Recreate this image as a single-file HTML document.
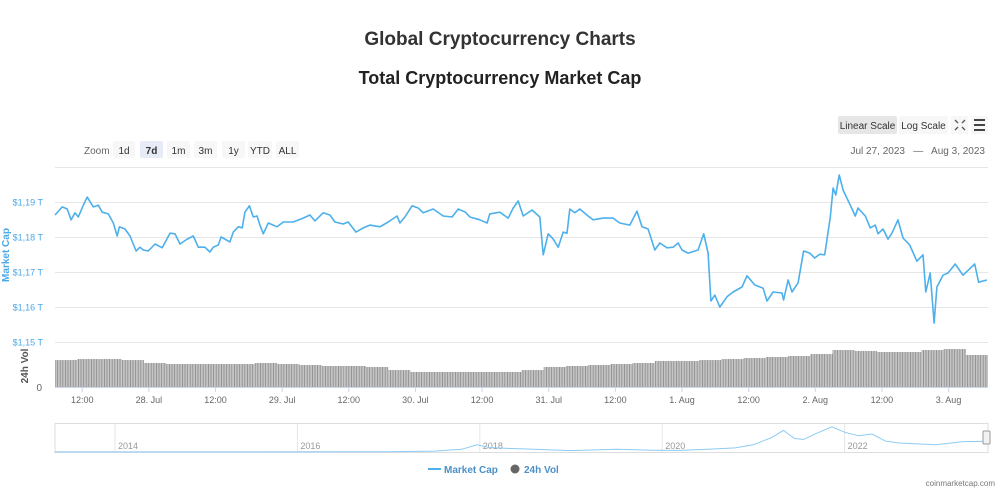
<!DOCTYPE html>
<html><head><meta charset="utf-8">
<style>
body{margin:0;background:#fff;font-family:"Liberation Sans",sans-serif;}
svg{display:block}
</style></head>
<body>
<svg id="chart" width="1000" height="490" font-family="Liberation Sans, sans-serif">
<defs>
<pattern id="stripes" width="2.6" height="10" patternUnits="userSpaceOnUse">
<rect width="2.6" height="10" fill="#c4c4c4"/><rect width="0.8" height="10" fill="#8a8a8a"/>
</pattern>
</defs>
<text x="500" y="45" text-anchor="middle" font-size="19" font-weight="bold" fill="#333">Global Cryptocurrency Charts</text>
<text x="500" y="84" text-anchor="middle" font-size="18" font-weight="bold" fill="#222">Total Cryptocurrency Market Cap</text>

<g><rect x="838" y="116" width="59" height="18" rx="2" fill="#e6e6e6"/><text x="867.5" y="129" text-anchor="middle" font-size="10" fill="#333">Linear Scale</text></g>
<g><rect x="899" y="116" width="49" height="18" rx="2" fill="#f7f7f7"/><text x="923.5" y="129" text-anchor="middle" font-size="10" fill="#333">Log Scale</text></g>
<g><rect x="951" y="116" width="17" height="18" fill="#f7f7f7"/><path d="M955 120l3 3M965 120l-3 3M955 130l3-3M965 130l-3-3" stroke="#555" stroke-width="1.3"/></g>
<g><rect x="971" y="116" width="17" height="18" fill="#f7f7f7"/><path d="M974 120h11M974 125h11M974 130h11" stroke="#444" stroke-width="2"/></g>

<text x="84" y="154" font-size="10" fill="#666">Zoom</text>
<g id="zoomBtns"></g>
<text x="985" y="154" text-anchor="end" font-size="10" fill="#666">Jul 27, 2023 &#160; — &#160; Aug 3, 2023</text>

<g id="grid"></g>
<g id="ylabels"></g>
<text transform="translate(9,255) rotate(-90)" text-anchor="middle" font-size="10" font-weight="bold" fill="#4aa8e8">Market Cap</text>
<text transform="translate(28,366) rotate(-90)" text-anchor="middle" font-size="10" font-weight="bold" fill="#555">24h Vol</text>
<text x="42" y="391" text-anchor="end" font-size="10" fill="#666">0</text>
<g id="vol"></g>
<path id="line" fill="none" stroke="#4db0eb" stroke-width="1.6" stroke-linejoin="round"/>
<line x1="55" y1="387.5" x2="988" y2="387.5" stroke="#ccd6eb"/>
<g id="xticks"></g>

<g id="nav"></g>

<g>
<g><line x1="428" y1="469" x2="441" y2="469" stroke="#4db0eb" stroke-width="2"/><text x="444" y="473" font-size="10" font-weight="bold" fill="#4a90c8">Market Cap</text></g>
<g><circle cx="515" cy="469" r="4.5" fill="#666"/><text x="524" y="473" font-size="10" font-weight="bold" fill="#4a90c8">24h Vol</text></g>
</g>
<text x="995" y="486" text-anchor="end" font-size="8" fill="#777">coinmarketcap.com</text>
</svg>
<script>
// hours since Jul 27 00:00 and market cap in billions USD
const hours=[7.1,8.4,9.3,10.0,10.7,11.3,12.2,12.9,14.0,14.9,15.6,16.7,17.6,18.3,18.7,19.7,20.6,21.7,22.4,23.0,23.9,25.1,26.4,27.8,28.7,29.6,30.9,32.0,32.9,34.1,35.0,35.6,36.5,37.0,38.6,39.2,40.1,40.8,41.3,42.1,42.8,43.5,44.0,44.6,45.5,47.1,48.2,50.0,51.8,53.0,53.9,55.4,56.6,57.5,59.0,59.9,61.3,62.6,63.8,65.6,67.1,68.7,69.2,70.1,71.4,72.5,73.4,75.2,77.0,78.6,79.7,81.0,81.8,83.6,84.9,85.4,87.2,88.7,89.6,90.5,91.4,93.0,94.4,95.0,95.9,96.8,97.7,98.6,99.3,99.8,100.7,101.6,103.1,104.0,105.8,107.6,108.8,110.6,111.9,112.8,113.9,115.1,116.0,117.3,118.4,119.3,120.0,121.1,122.9,123.9,124.7,125.2,125.9,126.8,128.1,129.2,130.8,131.7,133.1,134.6,135.3,136.4,138.0,138.3,139.1,139.8,140.9,141.9,143.0,143.9,144.8,145.7,146.7,147.2,147.7,148.3,149.0,150.3,151.2,151.7,153.0,153.9,154.8,155.3,156.2,157.1,157.8,158.9,159.8,161.0,162.3,163.4,163.9,164.7,165.4,165.9,167.0,167.9,169.2,170.6,171.8,172.7,173.4,174.9];
const marketCap=[1186.3,1188.6,1188.0,1184.9,1186.9,1185.7,1189.1,1191.4,1188.6,1189.1,1187.1,1186.6,1184.0,1180.3,1182.9,1182.3,1180.3,1176.0,1177.1,1176.3,1176.0,1178.0,1176.9,1181.1,1180.9,1178.0,1179.4,1180.3,1177.1,1177.1,1175.7,1177.1,1177.7,1180.0,1178.6,1181.4,1182.9,1182.6,1187.1,1188.9,1185.7,1186.0,1183.4,1180.9,1184.0,1182.9,1184.3,1184.3,1185.4,1186.3,1184.6,1186.9,1186.3,1184.3,1183.7,1184.3,1181.4,1182.6,1183.4,1182.9,1184.3,1186.0,1184.0,1185.7,1188.9,1188.3,1186.9,1188.0,1186.0,1185.7,1188.0,1187.1,1185.7,1184.9,1184.0,1186.6,1187.1,1185.4,1188.3,1190.3,1186.0,1187.7,1185.7,1174.9,1180.9,1179.4,1177.1,1181.4,1181.1,1188.0,1186.9,1188.0,1186.0,1184.9,1185.4,1185.4,1184.0,1183.4,1187.4,1182.9,1182.3,1176.3,1178.3,1176.9,1177.1,1178.3,1176.3,1175.4,1176.3,1180.9,1175.4,1161.7,1163.4,1160.0,1162.9,1164.3,1165.7,1168.9,1166.3,1165.4,1161.7,1164.3,1164.0,1162.0,1167.7,1164.3,1166.9,1176.0,1175.4,1174.0,1175.1,1174.9,1185.7,1194.0,1192.0,1197.7,1193.4,1189.1,1186.0,1188.3,1186.0,1182.6,1183.4,1180.9,1182.3,1179.4,1181.1,1184.9,1179.7,1177.7,1173.1,1174.9,1164.3,1169.7,1155.4,1165.7,1169.1,1169.7,1172.3,1169.1,1170.9,1172.3,1167.1,1167.7];
// 24h volume (billions) per 4-hour block starting at hour 7.1
const volume=[32.1,33.3,33.3,32.1,28.6,27.4,27.4,27.4,27.4,28.6,27.4,26.2,25.0,25.0,23.8,20.2,17.9,17.9,17.9,17.9,17.9,20.2,23.8,25.0,26.2,27.4,28.6,31.0,31.0,32.1,33.3,34.5,35.7,36.9,39.3,44.0,42.9,41.7,41.7,44.0,45.2,38.1];
const yTicks=[1150,1160,1170,1180,1190,1200];
const yTickLabels=["$1,15 T","$1,16 T","$1,17 T","$1,18 T","$1,19 T",""];
const xTickHours=[12,24,36,48,60,72,84,96,108,120,132,144,156,168];
const xTickLabels=["12:00","28. Jul","12:00","29. Jul","12:00","30. Jul","12:00","31. Jul","12:00","1. Aug","12:00","2. Aug","12:00","3. Aug"];
const zoomOpts=["1d","7d","1m","3m","1y","YTD","ALL"];
const navYears=[2013.34,2016.5,2017.0,2017.5,2017.8,2017.97,2018.1,2018.3,2018.6,2019.0,2019.5,2019.9,2020.2,2020.5,2020.8,2021.0,2021.2,2021.33,2021.45,2021.55,2021.7,2021.86,2022.0,2022.15,2022.3,2022.45,2022.6,2023.0,2023.3,2023.6];
const navCap=[0.01,0.02,0.03,0.1,0.3,0.8,0.5,0.4,0.3,0.15,0.3,0.2,0.18,0.3,0.45,0.8,1.6,2.4,1.5,1.4,2.1,2.8,2.2,1.8,2.0,1.2,1.0,0.8,1.15,1.2];
const navTickYears=[2014,2016,2018,2020,2022];

const NS="http://www.w3.org/2000/svg";
const X0=55,X1=988,H0=7.1,H1=175.1;
const xs=h=>X0+(h-H0)/(H1-H0)*(X1-X0);
const ys=v=>202+(1190-v)*3.5;
const vs=v=>387-v*0.84;
const mk=(p,t,a)=>{const e=document.createElementNS(NS,t);for(const k in a)e.setAttribute(k,a[k]);p.appendChild(e);return e;};

const zb=document.getElementById('zoomBtns');
const zx=[113,140,167,194,222,248,276],zw=[22,23,23,23,23,24,23];
zoomOpts.forEach((o,i)=>{
 const g=mk(zb,'g',{});
 
 
 mk(g,'rect',{x:zx[i],y:141,width:zw[i],height:17,rx:2,fill:o==='7d'?'#e6ebf5':'#f7f7f7'});
 const t=mk(g,'text',{x:zx[i]+zw[i]/2,y:154,'text-anchor':'middle','font-size':10,fill:'#333','font-weight':o==='7d'?'bold':'normal'});
 t.textContent=o;
});

const grid=document.getElementById('grid'),yl=document.getElementById('ylabels');
yTicks.forEach((v,i)=>{
 const l=mk(grid,'line',{x1:X0,x2:X1,y1:ys(v)+0.5,y2:ys(v)+0.5,stroke:'#e6e6e6'});
 
 
 if(yTickLabels[i]){
  const t=mk(yl,'text',{x:43,y:ys(v)+3.5,'text-anchor':'end','font-size':9,fill:'#4aa8e8'});
  
  
  t.textContent=yTickLabels[i];
 }
});

const vg=document.getElementById('vol');
const bw=4*(X1-X0)/(H1-H0);
volume.forEach((v,i)=>{
 const x=xs(H0+4*i);
 const r=mk(vg,'rect',{x:x,y:vs(v),width:Math.min(bw,X1-x),height:387-vs(v),fill:'url(#stripes)'});
 
 
});

document.getElementById('line').setAttribute('d',hours.map((h,i)=>(i?'L':'M')+xs(h).toFixed(1)+' '+ys(marketCap[i]).toFixed(1)).join(''));

const xt=document.getElementById('xticks');
xTickHours.forEach((h,i)=>{
 mk(xt,'line',{x1:xs(h),x2:xs(h),y1:388,y2:392,stroke:'#ccd6eb'});
 const t=mk(xt,'text',{x:xs(h),y:403,'text-anchor':'middle','font-size':9,fill:'#666'});
 
 
 t.textContent=xTickLabels[i];
});

const nav=document.getElementById('nav');
const nx=y=>115+(y-2014)*91.2, ny=v=>452-v*9;
mk(nav,'rect',{x:55,y:423.5,width:933,height:29,fill:'#fff',stroke:'#ddd'});
navTickYears.forEach(y=>{
 mk(nav,'line',{x1:nx(y),x2:nx(y),y1:424,y2:452,stroke:'#e6e6e6'});
 const t=mk(nav,'text',{x:nx(y)+3,y:449,'font-size':9,fill:'#999'});
 
 
 t.textContent=y;
});
const np=mk(nav,'path',{fill:'none',stroke:'#8ccbf2','stroke-width':1,d:navYears.map((y,i)=>(i?'L':'M')+nx(y).toFixed(1)+' '+ny(navCap[i]).toFixed(1)).join('')});


const hd=mk(nav,'rect',{x:983,y:431,width:7,height:13,rx:1,fill:'#f2f2f2',stroke:'#999'});


</script>
</body></html>
